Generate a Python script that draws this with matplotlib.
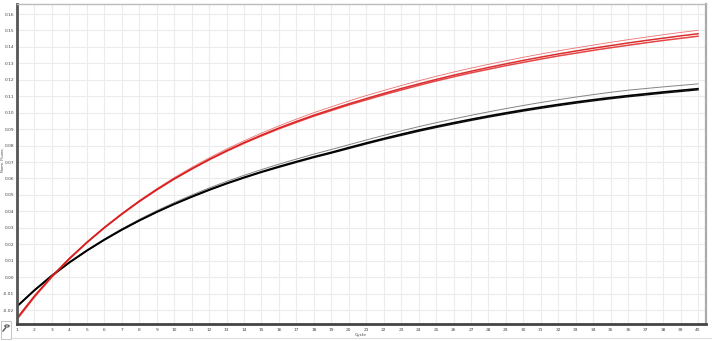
import matplotlib.pyplot as plt
from matplotlib.lines import Line2D
from matplotlib.patches import Rectangle, Circle

cycles = list(range(1, 41))

# red replicates (normalized fluorescence per cycle)
red_lo = [-0.0257, -0.0121, 0.0001, 0.0110, 0.0209, 0.0299, 0.0382, 0.0459, 0.0530, 0.0596,
          0.0656, 0.0713, 0.0765, 0.0814, 0.0859, 0.0902, 0.0941, 0.0979, 0.1013, 0.1047,
          0.1078, 0.1109, 0.1138, 0.1166, 0.1193, 0.1218, 0.1242, 0.1264, 0.1286, 0.1306,
          0.1326, 0.1345, 0.1362, 0.1379, 0.1395, 0.1410, 0.1425, 0.1439, 0.1452, 0.1465]
red_mid = [-0.0250, -0.0115, 0.0005, 0.0113, 0.0211, 0.0301, 0.0384, 0.0461, 0.0532, 0.0598,
           0.0659, 0.0716, 0.0769, 0.0818, 0.0864, 0.0907, 0.0947, 0.0985, 0.1020, 0.1054,
           0.1086, 0.1117, 0.1147, 0.1175, 0.1202, 0.1228, 0.1252, 0.1275, 0.1297, 0.1318,
           0.1338, 0.1357, 0.1375, 0.1392, 0.1408, 0.1424, 0.1439, 0.1453, 0.1467, 0.1480]
red_hi = [-0.0246, -0.0111, 0.0009, 0.0117, 0.0215, 0.0305, 0.0388, 0.0466, 0.0538, 0.0605,
          0.0667, 0.0725, 0.0779, 0.0829, 0.0876, 0.0920, 0.0961, 0.1000, 0.1036, 0.1071,
          0.1104, 0.1135, 0.1165, 0.1194, 0.1221, 0.1247, 0.1271, 0.1294, 0.1316, 0.1337,
          0.1357, 0.1376, 0.1394, 0.1411, 0.1428, 0.1444, 0.1459, 0.1474, 0.1488, 0.1501]

# black replicates
black_lo = [-0.0180, -0.0082, 0.0007, 0.0087, 0.0159, 0.0225, 0.0286, 0.0342, 0.0394, 0.0442,
            0.0486, 0.0528, 0.0567, 0.0603, 0.0637, 0.0668, 0.0698, 0.0727, 0.0754, 0.0782,
            0.0810, 0.0837, 0.0862, 0.0887, 0.0910, 0.0932, 0.0953, 0.0973, 0.0992, 0.1010,
            0.1027, 0.1043, 0.1058, 0.1072, 0.1085, 0.1097, 0.1108, 0.1119, 0.1129, 0.1139]
black_mid = [-0.0177, -0.0079, 0.0010, 0.0090, 0.0162, 0.0228, 0.0289, 0.0345, 0.0397, 0.0445,
             0.0490, 0.0532, 0.0571, 0.0607, 0.0641, 0.0673, 0.0703, 0.0732, 0.0759, 0.0788,
             0.0816, 0.0843, 0.0869, 0.0894, 0.0917, 0.0939, 0.0960, 0.0980, 0.0999, 0.1017,
             0.1034, 0.1050, 0.1065, 0.1079, 0.1092, 0.1104, 0.1115, 0.1126, 0.1136, 0.1146]
black_hi = [-0.0175, -0.0076, 0.0013, 0.0093, 0.0165, 0.0232, 0.0294, 0.0351, 0.0404, 0.0453,
            0.0499, 0.0542, 0.0582, 0.0619, 0.0654, 0.0687, 0.0718, 0.0748, 0.0776, 0.0805,
            0.0834, 0.0862, 0.0889, 0.0915, 0.0939, 0.0962, 0.0984, 0.1005, 0.1025, 0.1044,
            0.1062, 0.1079, 0.1095, 0.1110, 0.1124, 0.1137, 0.1147, 0.1157, 0.1166, 0.1175]

y_ticks = [-0.02, -0.01, 0.00, 0.01, 0.02, 0.03, 0.04, 0.05, 0.06, 0.07, 0.08,
           0.09, 0.10, 0.11, 0.12, 0.13, 0.14, 0.15, 0.16]

fig = plt.figure(figsize=(7.12, 3.41), dpi=100)
ax = fig.add_axes([17 / 712, 17 / 341, 689 / 712, 320 / 341])

ax.plot(cycles, black_hi, color="#777777", lw=0.7, alpha=0.9)
ax.plot(cycles, black_lo, color="#111111", lw=1.0)
ax.plot(cycles, black_mid, color="#000000", lw=1.2)

ax.plot(cycles, red_hi, color="#e85050", lw=0.6, alpha=0.8)
ax.plot(cycles, red_lo, color="#e02828", lw=1.1, alpha=0.85)
ax.plot(cycles, red_mid, color="#d81818", lw=1.1, alpha=0.9)

ax.set_xlim(1, 40.46)
ax.set_ylim(-0.0285, 0.1661)
ax.set_xticks(cycles)
ax.set_yticks(y_ticks)
ax.set_yticklabels([f"{v:.2f}" for v in y_ticks])
ax.tick_params(axis="both", length=0, labelsize=3.2, colors="#444444")
ax.tick_params(axis="y", pad=2)
ax.tick_params(axis="x", pad=3)
ax.grid(True, color="#ececec", lw=0.8)
ax.set_axisbelow(True)

ax.spines["left"].set_color("#555555")
ax.spines["left"].set_linewidth(2.0)
ax.spines["bottom"].set_color("#444444")
ax.spines["bottom"].set_linewidth(2.0)
ax.spines["top"].set_color("#bbbbbb")
ax.spines["top"].set_linewidth(1.0)
ax.spines["right"].set_color("#aaaaaa")
ax.spines["right"].set_linewidth(1.6)

fig.text(361 / 712, 1 - 335 / 341, "Cycle", fontsize=3.2, color="#444444",
         ha="center", va="center")
fig.text(3.5 / 712, 1 - 160 / 341, "Norm. Fluoro.", fontsize=2.6, color="#444444",
         ha="center", va="center", rotation=90)

# little zoom button bottom-left and the bottom frame line
fig.add_artist(Rectangle((1 / 712, 1 - 339 / 341), 10 / 712, 18 / 341,
                         transform=fig.transFigure, fill=False, ec="#bbbbbb", lw=0.6))
fig.add_artist(Circle((7 / 712, 1 - 326 / 341), 2.2 / 712,
                      transform=fig.transFigure, fill=False, ec="#555555", lw=0.8))
fig.add_artist(Line2D([3 / 712, 5.5 / 712], [1 - 331 / 341, 1 - 328 / 341],
                      transform=fig.transFigure, color="#555555", lw=1.0))
fig.add_artist(Line2D([12 / 712, 711 / 712], [1 - 338 / 341, 1 - 338 / 341],
                      transform=fig.transFigure, color="#dddddd", lw=0.8))

fig.savefig("out.png", dpi=100)
